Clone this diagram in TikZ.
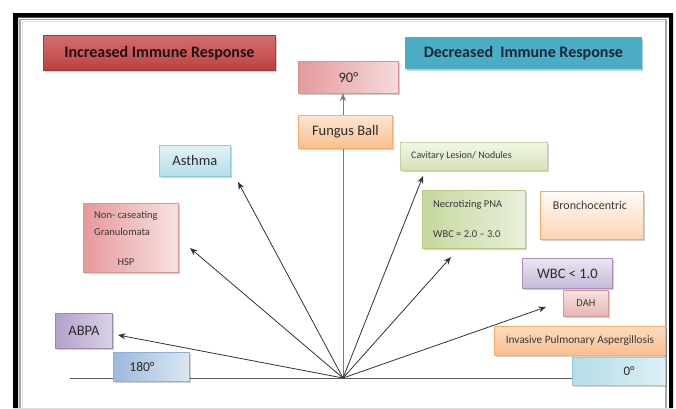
\documentclass[tikz,border=0pt]{standalone}
\usepackage{fontspec}
\setmainfont{Carlito}
\usetikzlibrary{shadows,arrows.meta}
\definecolor{txt}{HTML}{2B2B2B}
\definecolor{stxt}{HTML}{383838}
\definecolor{lin}{HTML}{333333}
\definecolor{incT}{HTML}{D36C6D}\definecolor{incM}{HTML}{C9595A}\definecolor{incB}{HTML}{B8403F}\definecolor{incD}{HTML}{A83A3A}\definecolor{incX}{HTML}{231010}
\definecolor{decF}{HTML}{4BACC6}\definecolor{decS}{HTML}{A9C6D3}\definecolor{decX}{HTML}{182A36}
\definecolor{c90a}{HTML}{E49A9C}\definecolor{c90b}{HTML}{F6DADA}\definecolor{c90d}{HTML}{DB9092}
\definecolor{funa}{HTML}{FDE6D2}\definecolor{funb}{HTML}{F9BF8D}\definecolor{fund}{HTML}{F6AE72}
\definecolor{asta}{HTML}{E2F2F7}\definecolor{astb}{HTML}{B5DEEA}\definecolor{astd}{HTML}{8DCBDF}
\definecolor{cava}{HTML}{F2F6E8}\definecolor{cavb}{HTML}{D3E2B6}\definecolor{cavd}{HTML}{C2D69B}
\definecolor{ncsa}{HTML}{E5999A}\definecolor{ncsb}{HTML}{F8E2E2}\definecolor{ncsd}{HTML}{D99694}
\definecolor{neca}{HTML}{C5D89E}\definecolor{necb}{HTML}{E9F0DB}\definecolor{necd}{HTML}{B4CC84}
\definecolor{bra}{HTML}{FFFBF7}\definecolor{brb}{HTML}{FCD5B4}\definecolor{brd}{HTML}{F8AA6A}
\definecolor{wba}{HTML}{EAE5F1}\definecolor{wbb}{HTML}{C6BAD9}\definecolor{wbd}{HTML}{A892C4}
\definecolor{daha}{HTML}{F6E3E3}\definecolor{dahb}{HTML}{E6B4B3}\definecolor{dahd}{HTML}{D99694}
\definecolor{inva}{HTML}{FDDBBE}\definecolor{invb}{HTML}{F9BE8E}\definecolor{invd}{HTML}{F6AE72}
\definecolor{zera}{HTML}{B5DDE8}\definecolor{zerb}{HTML}{DDF0F5}\definecolor{zerd}{HTML}{94CDDD}
\definecolor{abpa}{HTML}{B4A0CC}\definecolor{abpb}{HTML}{DAD1E6}\definecolor{abpd}{HTML}{9A85BB}
\definecolor{ona}{HTML}{9CB9DC}\definecolor{onb}{HTML}{DCE7F4}\definecolor{ond}{HTML}{8EB0D8}
\begin{document}
\begin{tikzpicture}[x=1pt,y=-1pt,
  box/.style={anchor=north west, inner sep=0pt, line width=0.8pt,
    drop shadow={shadow xshift=1.2pt, shadow yshift=-1.6pt, fill=black, opacity=0.18}},
  sz/.style 2 args={minimum width=#1pt, minimum height=#2pt},
  vg/.style 2 args={top color=#1, bottom color=#2},
  hg/.style 2 args={left color=#1, right color=#2},
  big/.style={font=\fontsize{14.5}{17}\selectfont, text=txt},
  head/.style={font=\bfseries\fontsize{16}{19}\selectfont},
  small/.style={font=\fontsize{10.5}{12}\selectfont, text=stxt},
  arr/.style={draw=lin, line width=0.8pt, -{Stealth[length=7.5pt,width=6pt]}},
  txtnode/.style={inner sep=0pt}]
\useasboundingbox (0,0) rectangle (676,408);
\fill[white] (0,0) rectangle (676,408);
% frame
\fill[black, even odd rule] (13,13) rectangle (673,408) (18,17.5) rectangle (669,408);
\draw[black!35, line width=1.4pt] (20,408) -- (20,19.5) -- (666,19.5) -- (666,408);
\draw[black!12, line width=1pt] (22,408) -- (22,21.5) -- (664,21.5);
% axis
\coordinate (O) at (343,378);
\coordinate (L) at (70,378);
\coordinate (R) at (575,378);
\draw[draw=lin!80, line width=0.9pt] (L) -- (R);
% arrow tips
\coordinate (tA) at (238,182);
\coordinate (tN) at (190,248);
\coordinate (tAB) at (118,335);
\coordinate (tC) at (423,176);
\coordinate (tNe) at (451,257);
\coordinate (tD) at (546,307);
\coordinate (t90) at (343,93.5);
\draw[arr, draw=lin!65] (O) -- (t90);
\draw[arr] (O) -- (tA);
\draw[arr] (O) -- (tN);
\draw[arr] (O) -- (tAB);
\draw[arr] (O) -- (tC);
\draw[arr] (O) -- (tNe);
\draw[arr] (O) -- (tD);
% heading boxes
\node[box, sz={232}{35}, top color=incT, bottom color=incB, middle color=incM, draw=incD, head, text=incX] (inc) at (43,35) {Increased Immune Response};
\node[box, sz={236}{31}, fill=decF, draw=decF,
  drop shadow={shadow xshift=2pt, shadow yshift=-2.5pt, fill=decS, opacity=0.7},
  head, text=decX] (dec) at (405,37) {Decreased\ \ Immune Response};
% content boxes
\node[box, sz={100}{32}, hg={c90a}{c90b}, draw=c90d, big] (n90) at (298,61) {90°};
\node[box, sz={94}{33}, vg={funa}{funb}, draw=fund, big] (fungus) at (298,115) {Fungus Ball};
\node[box, sz={71}{31}, vg={asta}{astb}, draw=astd, big] (asthma) at (159,145) {Asthma};
\node[box, sz={147}{28}, vg={cava}{cavb}, draw=cavd] (cav) at (400,142) {};
\node[txtnode, small, font=\fontsize{10}{12}\selectfont, anchor=west] (cavt) at (411,156) {Cavitary Lesion/ Nodules};
\node[box, sz={95}{69}, hg={ncsa}{ncsb}, draw=ncsd] (noncas) at (83,203) {};
\node[txtnode, small, anchor=west] (noncas1) at (94,216) {Non- caseating};
\node[txtnode, small, anchor=west] (noncas2) at (94,232) {Granulomata};
\node[txtnode, small] (noncas3) at (126,262) {HSP};
\node[box, sz={103}{58}, hg={neca}{necb}, draw=necd] (necro) at (422,190) {};
\node[txtnode, small, anchor=west] (necro1) at (433,205) {Necrotizing PNA};
\node[txtnode, small, anchor=west] (necro2) at (433,234) {WBC = 2.0 – 3.0};
\node[box, sz={103}{48}, vg={bra}{brb}, draw=brd] (bronch) at (540,191) {};
\node[txtnode, font=\fontsize{12}{14}\selectfont, text=stxt] (broncht) at (590,205) {Bronchocentric};
\node[box, sz={90}{30}, vg={wba}{wbb}, draw=wbd, big] (wbc) at (522,258) {WBC < 1.0};
\node[box, sz={45}{26}, vg={daha}{dahb}, draw=dahd, font=\fontsize{10.5}{12}\selectfont, text=stxt] (dah) at (563,290) {DAH};
\node[box, sz={171}{29}, vg={inva}{invb}, draw=invd, font=\fontsize{11.3}{13}\selectfont, text=stxt] (inv) at (494,326) {Invasive Pulmonary Aspergillosis};
\node[box, sz={93}{28}, hg={zera}{zerb}, draw=zerd] (zero) at (572,357) {};
\node[txtnode, big, font=\fontsize{13}{15}\selectfont] (zerot) at (629,371) {0°};
\node[box, sz={57}{35}, hg={abpa}{abpb}, draw=abpd, big] (abpa) at (55,313) {ABPA};
\node[box, sz={76}{29}, hg={ona}{onb}, draw=ond] (n180) at (113,352) {};
\node[txtnode, big, font=\fontsize{13.5}{15}\selectfont] (n180t) at (142,366.5) {180°};
\end{tikzpicture}
\end{document}
